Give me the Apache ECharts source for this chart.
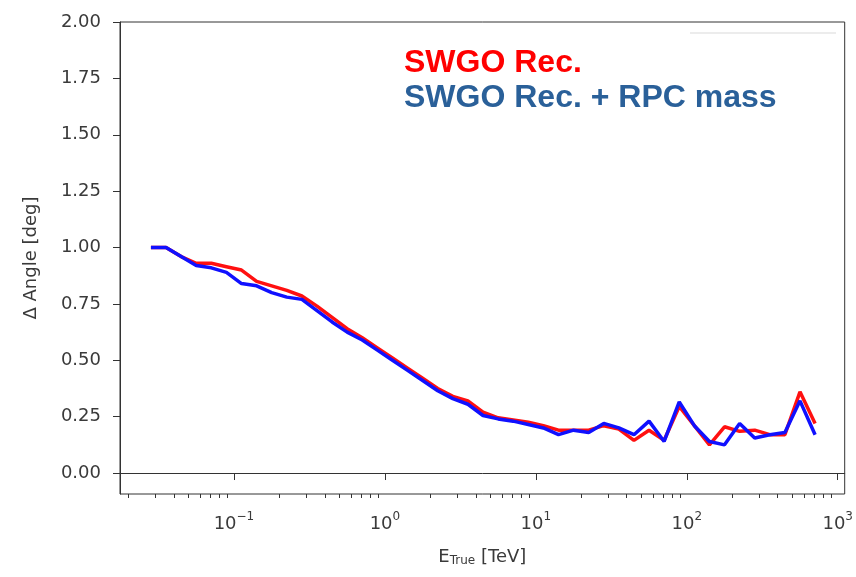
<!DOCTYPE html>
<html>
<head>
<meta charset="utf-8">
<script src="https://cdn.jsdelivr.net/npm/echarts@6/dist/echarts.min.js"></script>
<style>
html,body{margin:0;padding:0;background:#fff;}
#chart{width:856px;height:577px;}
</style>
</head>
<body>
<div id="chart"></div>
<script>
// True energy bin centres [TeV]
const energies = [0.02818, 0.03548, 0.04467, 0.05623, 0.07079, 0.08913, 0.1122, 0.1413, 0.1778, 0.2239,
  0.2818, 0.3548, 0.4467, 0.5623, 0.7079, 0.8913, 1.122, 1.413, 1.778, 2.239,
  2.818, 3.548, 4.467, 5.623, 7.079, 8.913, 11.22, 14.13, 17.78, 22.39,
  28.18, 35.48, 44.67, 56.23, 70.79, 89.13, 112.2, 141.3, 177.8, 223.9,
  281.8, 354.8, 446.7, 562.3, 707.9];
// Delta angle [deg], SWGO Rec.
const swgoRec = [1.00, 1.00, 0.96, 0.93, 0.93, 0.915, 0.90, 0.85, 0.83, 0.81,
  0.785, 0.74, 0.69, 0.64, 0.60, 0.555, 0.51, 0.465, 0.42, 0.375,
  0.34, 0.32, 0.27, 0.245, 0.235, 0.225, 0.21, 0.19, 0.19, 0.19,
  0.21, 0.195, 0.145, 0.19, 0.145, 0.295, 0.21, 0.125, 0.205, 0.185,
  0.19, 0.17, 0.17, 0.36, 0.22];
// Delta angle [deg], SWGO Rec. + RPC mass
const swgoRecRpc = [1.00, 1.00, 0.96, 0.92, 0.91, 0.89, 0.84, 0.83, 0.80, 0.78,
  0.77, 0.72, 0.67, 0.625, 0.59, 0.545, 0.50, 0.455, 0.41, 0.365,
  0.33, 0.305, 0.255, 0.24, 0.23, 0.215, 0.20, 0.17, 0.19, 0.18,
  0.22, 0.20, 0.17, 0.23, 0.14, 0.315, 0.21, 0.14, 0.125, 0.22,
  0.155, 0.17, 0.18, 0.32, 0.17];
// Axis ticks
const yTicks = [0, 0.25, 0.5, 0.75, 1.0, 1.25, 1.5, 1.75, 2.0];
const xMajorTicks = [0.1, 1, 10, 100, 1000];
const xMinorTicks = [0.02,0.03,0.04,0.05,0.06,0.07,0.08,0.09,
  0.2,0.3,0.4,0.5,0.6,0.7,0.8,0.9,
  2,3,4,5,6,7,8,9,
  20,30,40,50,60,70,80,90,
  200,300,400,500,600,700,800,900];
const legendLabels = ['SWGO Rec.', 'SWGO Rec. + RPC mass'];

const font = '"DejaVu Sans", sans-serif';
const axisColor = '#333';
const textColor = '#3a3a3a';
const xMin = 0.01758, xMax = 1112;

const chart = echarts.init(document.getElementById('chart'));
chart.setOption({
  animation: false,
  backgroundColor: '#fff',
  grid: {left: 120, right: 11, top: 22, bottom: 83, show: true, borderColor: axisColor, borderWidth: 1, backgroundColor: 'transparent'},
  xAxis: [{
    type: 'log', logBase: 10, min: xMin, max: xMax, position: 'bottom',
    axisLine: {show: true, lineStyle: {color: axisColor, width: 1}},
    axisTick: {show: true, length: 7, customValues: xMajorTicks, lineStyle: {color: axisColor}},
    axisLabel: {
      customValues: xMajorTicks, margin: 17, color: textColor,
      formatter: function (v) {
        const e = Math.round(Math.log10(v));
        return '{b|10}{s|' + String(e).replace('-', '\u2212') + '}';
      },
      rich: {
        b: {fontFamily: font, fontSize: 18, color: textColor, verticalAlign: 'bottom'},
        s: {fontFamily: font, fontSize: 12, color: textColor, verticalAlign: 'top', padding: [0, 0, 10, 0]}
      }
    },
    splitLine: {show: false},
    name: '{a|E}{s|True}{a| [TeV]}', nameLocation: 'middle', nameGap: 53,
    nameTextStyle: {
      rich: {
        a: {fontFamily: font, fontSize: 18, color: textColor},
        s: {fontFamily: font, fontSize: 12, color: textColor, padding: [8, 0, 0, 0]}
      }
    }
  }, {
    type: 'log', logBase: 10, min: xMin, max: xMax, position: 'bottom',
    axisLine: {show: false},
    axisTick: {show: true, length: 4, customValues: xMinorTicks, lineStyle: {color: axisColor}},
    axisLabel: {show: false},
    splitLine: {show: false}
  }],
  yAxis: {
    type: 'value', min: -0.093, max: 2.0,
    axisLine: {show: true, lineStyle: {color: axisColor, width: 1}},
    axisTick: {show: true, length: 7, customValues: yTicks, lineStyle: {color: axisColor}},
    axisLabel: {
      customValues: yTicks, margin: 19, color: textColor, fontFamily: font, fontSize: 18,
      formatter: function (v) { return v.toFixed(2); }
    },
    splitLine: {show: false},
    name: '\u0394 Angle [deg]', nameLocation: 'middle', nameGap: 80, nameRotate: 90,
    nameTextStyle: {fontFamily: font, fontSize: 18, color: textColor}
  },
  series: [{
    name: legendLabels[0], type: 'line', xAxisIndex: 0,
    data: energies.map((e, i) => [e, swgoRec[i]]),
    showSymbol: false, lineStyle: {color: '#ff1010', width: 3.5}, itemStyle: {color: '#ff1010'}, z: 2
  }, {
    name: legendLabels[1], type: 'line', xAxisIndex: 0,
    data: energies.map((e, i) => [e, swgoRecRpc[i]]),
    showSymbol: false, lineStyle: {color: '#1010ff', width: 3.5}, itemStyle: {color: '#1010ff'}, z: 3
  }],
  graphic: [
    {type: 'line', shape: {x1: 690, y1: 33, x2: 836, y2: 33}, style: {stroke: '#e6e6e6', lineWidth: 1.5}},
    {type: 'text', left: 404, top: 47, style: {text: legendLabels[0], fill: '#ff0000', font: 'bold 32px "Liberation Sans", Arial, sans-serif'}},
    {type: 'text', left: 404, top: 82, style: {text: legendLabels[1], fill: '#2a6099', font: 'bold 32px "Liberation Sans", Arial, sans-serif'}}
  ]
});
</script>
</body>
</html>
